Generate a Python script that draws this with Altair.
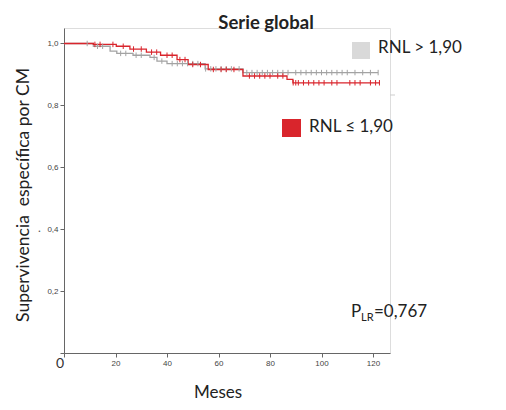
import altair as alt
import pandas as pd
import numpy as np

# ---- data ----
gray_time = [0, 11.4, 17.9, 20.5, 26.8, 33.4, 36.1, 40.0, 54.8, 69.5, 122.0]
gray_surv = [1.0, 0.991, 0.975, 0.968, 0.962, 0.955, 0.943, 0.935, 0.918, 0.906, 0.906]

red_time = [0, 11.4, 20.3, 25.6, 32.0, 37.5, 43.9, 48.2, 56.0, 69.5, 86.6, 88.9, 122.7]
red_surv = [1.0, 0.997, 0.991, 0.982, 0.972, 0.962, 0.948, 0.932, 0.916, 0.895, 0.884, 0.873, 0.873]

gray_cens = [9, 13, 15, 22, 24, 28, 30, 35, 38, 42, 44, 46, 48, 50, 52, 55, 57, 59, 61, 63,
             65, 68, 71, 73, 75, 77, 79, 81, 83, 85, 87, 90, 92, 94, 96, 98, 100, 102, 104,
             106, 108, 110, 113, 116, 119, 122]
red_cens = [12, 14, 19, 23, 27, 30, 34, 36, 40, 42, 45, 47, 50, 53, 58, 61, 63, 66, 72, 74,
            76, 78, 80, 83, 85, 89, 90, 91, 93, 95, 97, 99, 101, 104, 106, 111, 113, 115,
            119, 121, 122.5]

x_ticks = [0, 20, 40, 60, 80, 100, 120]
y_ticks = [0, 0.2, 0.4, 0.6, 0.8, 1.0]

GRAY = "#a3a3a3"
RED = "#d9252c"


def step_at(times, surv, t):
    i = int(np.searchsorted(times, t, side="right")) - 1
    return surv[max(i, 0)]


lines = pd.DataFrame(
    [{"g": "gray", "t": t, "s": s} for t, s in zip(gray_time, gray_surv)]
    + [{"g": "red", "t": t, "s": s} for t, s in zip(red_time, red_surv)]
)
cens = pd.DataFrame(
    [{"g": "gray", "t": t, "s": step_at(gray_time, gray_surv, t)} for t in gray_cens]
    + [{"g": "red", "t": t, "s": step_at(red_time, red_surv, t)} for t in red_cens]
)

color = alt.Color("g:N", scale=alt.Scale(domain=["gray", "red"], range=[GRAY, RED]), legend=None)

xenc = alt.X(
    "t:Q",
    scale=alt.Scale(domain=[0, 126.6], nice=False, zero=True),
    axis=alt.Axis(
        values=x_ticks,
        title=None,
        grid=False,
        labelExpr="datum.value == 0 ? '' : datum.label",
        labelFontSize=8,
        labelColor="#444",
        labelFont="Liberation Sans",
        tickSize=4,
        tickColor="#666",
        domainColor="#666",
        labelPadding=2,
    ),
)
yenc = alt.Y(
    "s:Q",
    scale=alt.Scale(domain=[0, 1.05], nice=False),
    axis=alt.Axis(
        values=y_ticks,
        title=None,
        grid=False,
        labelExpr="datum.value == 0 ? '' : replace(format(datum.value, '.1f'), '.', ',')",
        labelFontSize=8,
        labelColor="#444",
        labelFont="Liberation Sans",
        tickSize=4,
        tickColor="#666",
        domainColor="#666",
        labelPadding=2,
    ),
)

line_layer = alt.Chart(lines).mark_line(interpolate="step-after", strokeWidth=1.3).encode(
    x=xenc, y=yenc, color=color, detail="g:N"
)
cens_layer = alt.Chart(cens).mark_point(
    shape="M0,-1V1", filled=False, size=30, strokeWidth=1, opacity=1
).encode(x="t:Q", y="s:Q", color=color)

FONT = "Lato"


def txt(text, x, y, size=17, weight="normal", align="left", baseline="middle", angle=0, color="#222"):
    kw = dict(text=text, fontSize=size, fontWeight=weight, align=align, baseline=baseline,
              font=FONT, color=color)
    if angle:
        kw["angle"] = angle
    return alt.Chart(pd.DataFrame({"a": [0]})).mark_text(**kw).encode(
        x=alt.value(x), y=alt.value(y)
    )


def box(x1, x2, y1, y2, c):
    return alt.Chart(pd.DataFrame({"a": [0]})).mark_rect(color=c).encode(
        x=alt.value(x1), x2=alt.value(x2), y=alt.value(y1), y2=alt.value(y2)
    )


annot = [
    txt("Serie global", 202, 1, size=18.5, weight="bold", align="center", baseline="alphabetic"),
    txt("Supervivencia\u00a0 específica por CM", -40, 167, size=17.5, align="center", angle=270),
    txt("Meses", 154, 365, size=17, align="center"),
    txt("0", -4, 336, size=14, align="center", color="#333"),
    box(288, 306, 14, 31, "#d9d9d9"),
    txt("RNL > 1,90", 314, 20, size=17),
    box(218, 237, 91, 109, RED),
    txt("RNL ≤ 1,90", 245, 99, size=17),
    txt("P", 287, 289, size=17, baseline="alphabetic"),
    txt("LR", 297, 293, size=11, baseline="alphabetic"),
    txt("=0,767", 310, 289, size=17, baseline="alphabetic"),
    txt(".", -26, 200, size=12, color="#555"),
    box(326, 331, 66.5, 67.5, "#cccccc"),
]

chart = alt.layer(line_layer, cens_layer, *annot).properties(
    width=326,
    height=325,
    autosize=alt.AutoSizeParams(type="none"),
    padding={"left": 64, "top": 28, "right": 116, "bottom": 57},
).configure_view(stroke=None).configure(background="white")

chart.save("out.html", embed_options={"renderer": "svg", "actions": False})
